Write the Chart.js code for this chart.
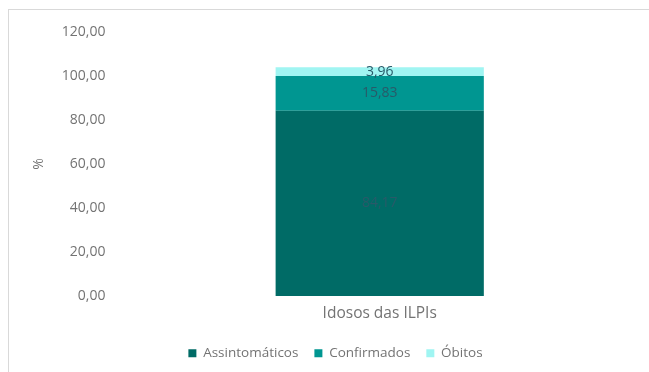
<!DOCTYPE html>
<html>
<head>
<meta charset="utf-8">
<script src="https://cdn.jsdelivr.net/npm/chart.js@4/dist/chart.umd.min.js"></script>
<style>
  html, body { margin: 0; padding: 0; background: #fff; }
  #wrap { position: relative; width: 649px; height: 372px; overflow: hidden; }
  #frame { position: absolute; left: 8px; top: 9px; width: 660px; height: 400px; border: 1px solid #d9d9d9; box-sizing: border-box; }
  #myChart { position: absolute; left: 0; top: 0; }
</style>
</head>
<body>
<div id="wrap">
  <div id="frame"></div>
  <canvas id="myChart" width="649" height="372"></canvas>
</div>
<script>
const categories = ['Idosos das ILPIs'];
const seriesNames = ['Assintomáticos', 'Confirmados', 'Óbitos'];
const assintomaticos = [84.17];
const confirmados = [15.83];
const obitos = [3.96];
const seriesColors = ['rgb(0, 107, 102)', 'rgb(0, 150, 145)', 'rgb(160, 245, 242)'];

const fmt = (v) => v.toFixed(2).replace('.', ',');

// draws the value in the middle of each bar segment
const barLabels = {
    id: 'barLabels',
    afterDatasetsDraw(chart) {
        const ctx = chart.ctx;
        ctx.save();
        ctx.font = '14px "Open Sans"';
        ctx.fillStyle = 'rgb(40, 90, 105)';
        ctx.textAlign = 'center';
        ctx.textBaseline = 'middle';
        chart.data.datasets.forEach((ds, i) => {
            chart.getDatasetMeta(i).data.forEach((bar, j) => {
                const y = (bar.y + bar.base) / 2;
                ctx.fillText(fmt(ds.data[j]), bar.x, y);
            });
        });
        ctx.restore();
    }
};

const data = {
    labels: categories,
    datasets: [
        { label: seriesNames[0], data: assintomaticos, backgroundColor: seriesColors[0] },
        { label: seriesNames[1], data: confirmados, backgroundColor: seriesColors[1] },
        { label: seriesNames[2], data: obitos, backgroundColor: seriesColors[2] },
    ]
};

const config = {
    type: 'bar',
    data: data,
    options: {
        responsive: false,
        animation: false,
        layout: { padding: { left: 31, right: 9, top: 32, bottom: 2 } },
        datasets: { bar: { categoryPercentage: 0.4, barPercentage: 1 } },
        scales: {
            x: {
                stacked: true,
                grid: { display: false, drawTicks: false },
                border: { display: false },
                ticks: { color: '#737373', font: { family: 'Open Sans', size: 15.5 }, padding: 8 }
            },
            y: {
                stacked: true,
                min: 0,
                max: 120,
                grid: { display: false, drawTicks: false },
                border: { display: false },
                ticks: {
                    stepSize: 20,
                    color: '#737373',
                    font: { family: 'Open Sans', size: 14 },
                    padding: 14,
                    callback: (v) => fmt(v)
                },
                title: { display: true, text: '%', color: '#737373', font: { family: 'Open Sans', size: 14 }, padding: 0 }
            }
        },
        plugins: {
            legend: {
                position: 'bottom',
                labels: {
                    color: '#737373',
                    font: { family: 'Open Sans', size: 13.5 },
                    boxWidth: 8,
                    boxHeight: 8,
                    padding: 16
                }
            },
            tooltip: { enabled: false }
        }
    },
    plugins: [barLabels]
};

let myChart = new Chart(document.getElementById('myChart'), config);
</script>
</body>
</html>
